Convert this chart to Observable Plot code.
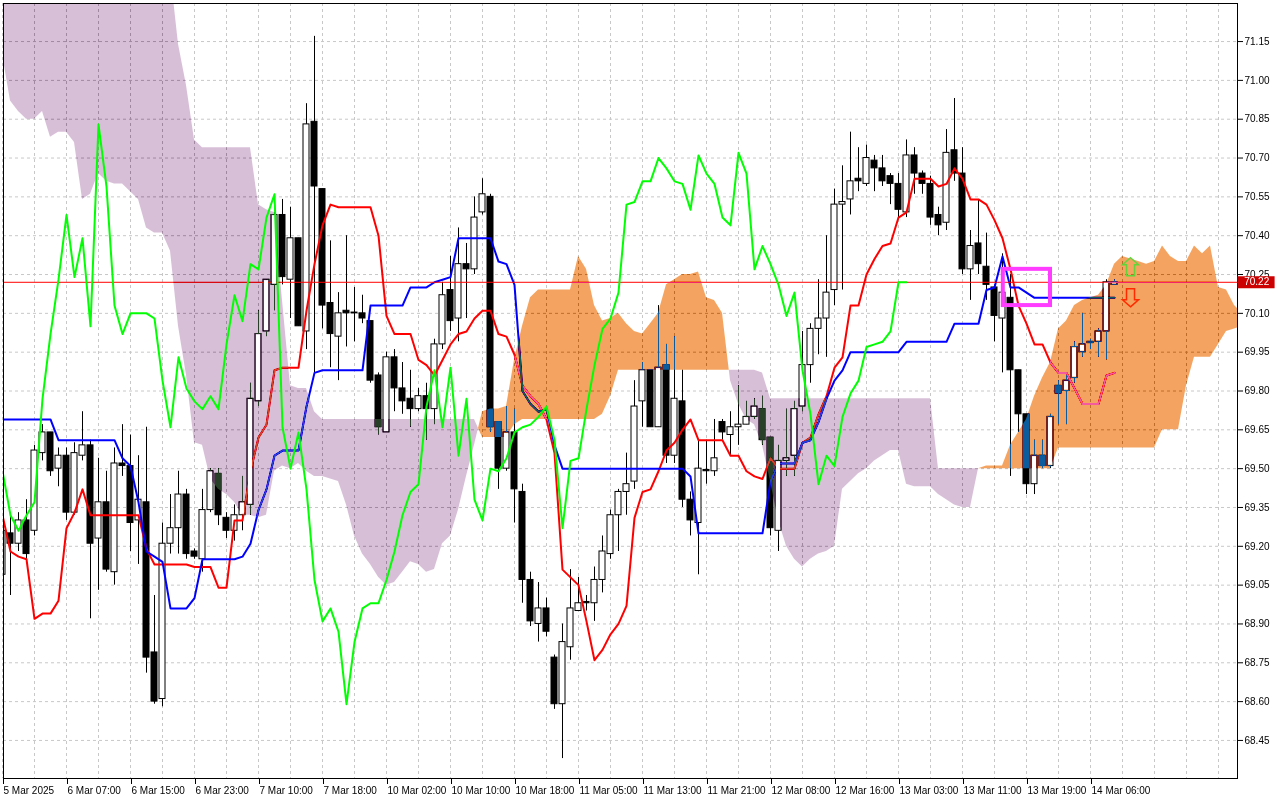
<!DOCTYPE html>
<html><head><meta charset="utf-8">
<script src="https://cdn.jsdelivr.net/npm/d3@7"></script>
<script src="https://cdn.jsdelivr.net/npm/@observablehq/plot@0.6"></script>
<style>html,body{margin:0;padding:0;background:#fff;overflow:hidden}#chart svg{display:block}</style>
</head><body><div id="chart"></div>
<script>
// ---- hourly candles (bar index 0..139) ----
const opens = [69.09,69.25,69.21,69.30,69.26,69.56,69.64,69.50,69.55,69.33,
69.55,69.59,69.23,69.37,69.10,69.52,69.51,69.30,69.37,68.79,
68.61,69.21,69.27,69.40,69.18,69.15,69.34,69.48,69.31,69.26,
69.32,69.36,69.76,70.03,70.21,70.48,70.23,70.39,70.03,70.84,
70.58,70.14,70.01,70.11,70.10,70.10,70.07,69.86,69.64,69.93,
69.81,69.77,69.73,69.78,69.73,69.98,70.19,70.08,70.29,70.27,
70.49,70.55,69.68,69.50,69.64,69.41,69.07,68.90,68.96,68.77,
68.59,68.81,68.95,68.985,68.98,69.07,69.17,69.32,69.41,69.45,
69.76,69.88,69.66,69.90,69.55,69.76,69.38,69.29,69.495,69.49,
69.68,69.63,69.66,69.67,69.70,69.73,69.62,69.26,69.53,69.55,
69.74,69.90,70.04,70.08,70.19,70.52,70.54,70.62,70.60,70.69,
70.66,70.63,70.60,70.49,70.71,70.64,70.60,70.48,70.45,70.73,
70.64,70.27,70.37,70.28,70.20,70.08,70.16,69.88,69.71,69.44,
69.55,69.51,69.82,69.80,69.85,69.95,69.985,69.99,70.03,70.21];
const highs = [69.28,69.33,69.33,69.38,69.59,69.67,69.64,69.58,69.58,69.60,
69.72,69.61,69.54,69.49,69.58,69.67,69.63,69.55,69.66,69.01,
69.29,69.40,69.49,69.42,69.19,69.42,69.50,69.50,69.33,69.36,
69.47,69.83,70.11,70.23,70.49,70.54,70.51,70.39,70.91,71.17,
70.58,70.38,70.18,70.40,70.20,70.17,70.07,69.87,69.95,69.96,
69.91,69.88,69.81,69.83,70.00,70.22,70.32,70.43,70.37,70.55,
70.62,70.56,69.68,69.74,69.73,69.44,69.10,69.06,69.00,68.78,
68.90,69.11,69.08,69.01,69.12,69.24,69.34,69.42,69.56,69.84,
69.91,69.88,70.13,69.98,70.01,69.88,69.41,69.61,69.61,69.69,
69.69,69.72,69.82,69.76,69.77,69.78,69.62,69.59,69.73,69.76,
70.03,70.06,70.23,70.40,70.58,70.67,70.80,70.74,70.75,70.71,
70.71,70.64,70.64,70.77,70.74,70.65,70.63,70.51,70.81,70.93,
70.74,70.42,70.54,70.41,70.21,70.33,70.25,69.88,69.71,69.61,
69.61,69.71,69.84,69.86,69.99,70.10,70.00,70.04,70.23,70.23];
const lows = [69.07,69.01,69.18,69.15,69.24,69.53,69.47,69.43,69.30,69.32,
69.53,68.92,69.03,69.10,69.05,69.47,69.18,69.13,68.71,68.59,
68.58,69.17,69.17,69.15,69.15,69.10,69.33,69.28,69.23,69.22,
69.26,69.32,69.74,70.01,70.11,70.21,70.08,70.05,69.96,69.87,
70.04,69.89,69.84,69.97,69.99,70.06,69.83,69.63,69.64,69.72,
69.71,69.66,69.72,69.61,69.67,69.96,70.03,69.99,70.08,70.25,
70.48,69.64,69.42,69.49,69.29,68.98,68.89,68.83,68.85,68.57,
68.38,68.76,68.95,68.95,68.91,69.02,69.15,69.18,69.32,69.42,
69.66,69.66,69.66,69.52,69.52,69.35,69.24,69.09,69.44,69.47,
69.61,69.55,69.59,69.67,69.69,69.59,69.24,69.18,69.47,69.47,
69.72,69.83,69.94,69.93,70.13,70.19,70.48,70.57,70.59,70.57,
70.59,70.52,70.47,70.47,70.56,70.56,70.44,70.40,70.42,70.61,
70.25,70.15,70.25,70.15,69.99,69.87,69.47,69.64,69.40,69.40,
69.50,69.50,69.67,69.67,69.83,69.93,69.96,69.93,69.92,70.21];
const closes = [69.26,69.21,69.30,69.17,69.57,69.64,69.49,69.55,69.33,69.56,
69.59,69.21,69.37,69.11,69.52,69.51,69.29,69.38,68.77,68.60,
69.21,69.27,69.40,69.17,69.16,69.34,69.49,69.32,69.26,69.32,
69.37,69.77,70.02,70.23,70.48,70.24,70.39,70.05,70.83,70.59,
70.13,70.02,70.10,70.10,70.10,70.08,69.84,69.66,69.93,69.81,
69.76,69.73,69.78,69.73,69.98,70.17,70.07,70.29,70.27,70.47,
70.56,69.66,69.50,69.64,69.42,69.07,68.91,68.96,68.87,68.59,
68.83,68.96,68.98,68.98,69.07,69.18,69.32,69.41,69.44,69.74,
69.88,69.66,69.89,69.55,69.77,69.38,69.30,69.50,69.49,69.54,
69.64,69.66,69.67,69.70,69.74,69.61,69.27,69.53,69.54,69.73,
69.90,70.04,70.08,70.18,70.52,70.53,70.61,70.61,70.70,70.66,
70.61,70.60,70.50,70.71,70.64,70.60,70.47,70.44,70.72,70.64,
70.27,70.36,70.29,70.21,70.09,70.18,69.88,69.71,69.44,69.55,
69.51,69.70,69.79,69.84,69.97,69.98,69.99,70.03,70.22,70.22];

// ---- Ichimoku lines ----
const tenkan = [69.32,69.18,69.16,69.15,68.92,68.94,68.94,68.99,69.27,69.33,
69.42,69.32,69.32,69.32,69.32,69.32,69.32,69.32,69.19,69.13,
69.13,69.13,69.13,69.13,69.12,69.12,69.12,69.04,69.04,69.30,
69.30,69.49,69.62,69.67,69.88,69.89,69.89,69.89,70.11,70.29,
70.44,70.52,70.51,70.51,70.51,70.51,70.51,70.40,70.09,70.02,
70.02,70.02,69.92,69.90,69.86,69.92,69.98,70.02,70.03,70.08,
70.11,70.11,70.02,70.01,69.94,69.82,69.78,69.75,69.69,69.56,
69.11,69.08,69.05,68.91,68.76,68.80,68.86,68.90,68.97,69.31,
69.41,69.42,69.49,69.57,69.60,69.65,69.69,69.61,69.61,69.61,
69.61,69.55,69.55,69.49,69.47,69.46,69.54,69.50,69.50,69.50,
69.60,69.62,69.71,69.78,69.89,69.93,70.13,70.13,70.25,70.31,
70.36,70.37,70.47,70.49,70.62,70.62,70.62,70.59,70.60,70.66,
70.62,70.54,70.54,70.52,70.46,70.39,70.27,70.13,70.06,69.98,
69.98,69.91,69.87,69.87,69.81,69.75,69.75,69.75,69.86,69.87];
const kijun = [69.69,69.69,69.69,69.69,69.69,69.69,69.69,69.61,69.61,69.61,
69.61,69.61,69.61,69.61,69.61,69.54,69.51,69.37,69.18,69.16,
69.14,68.96,68.96,68.96,69.00,69.15,69.15,69.15,69.15,69.15,
69.16,69.21,69.34,69.42,69.55,69.57,69.57,69.57,69.74,69.87,
69.88,69.88,69.88,69.88,69.88,69.88,70.13,70.13,70.13,70.13,
70.13,70.20,70.20,70.20,70.22,70.23,70.24,70.39,70.39,70.39,
70.39,70.39,70.30,70.29,70.21,69.80,69.75,69.72,69.73,69.59,
69.50,69.50,69.50,69.50,69.50,69.50,69.50,69.50,69.50,69.50,
69.50,69.50,69.50,69.50,69.50,69.50,69.47,69.25,69.25,69.25,
69.25,69.25,69.25,69.25,69.25,69.25,69.45,69.52,69.52,69.52,
69.60,69.61,69.68,69.77,69.84,69.88,69.95,69.95,69.95,69.95,
69.95,69.95,69.95,69.99,69.99,69.99,69.99,69.99,69.99,70.06,
70.06,70.06,70.06,70.19,70.20,70.32,70.20,70.20,70.18,70.16,
70.16,70.16,70.16,70.16,70.16,70.16,70.16,70.16,70.16,70.16];
// Chikou span: plotted 26 bars back (bar 0..113)
const chikou = [69.49,69.32,69.26,69.32,69.37,69.77,70.02,70.23,70.48,70.24,
70.39,70.05,70.83,70.59,70.13,70.02,70.10,70.10,70.10,70.08,
69.84,69.66,69.93,69.81,69.76,69.73,69.78,69.73,69.98,70.17,
70.07,70.29,70.27,70.47,70.56,69.66,69.50,69.64,69.42,69.07,
68.91,68.96,68.87,68.59,68.83,68.96,68.98,68.98,69.07,69.18,
69.32,69.41,69.44,69.74,69.88,69.66,69.89,69.55,69.77,69.38,
69.30,69.50,69.49,69.54,69.64,69.66,69.67,69.70,69.74,69.61,
69.27,69.53,69.54,69.73,69.90,70.04,70.08,70.18,70.52,70.53,
70.61,70.61,70.70,70.66,70.61,70.60,70.50,70.71,70.64,70.60,
70.47,70.44,70.72,70.64,70.27,70.36,70.29,70.21,70.09,70.18,
69.88,69.71,69.44,69.55,69.51,69.70,69.79,69.84,69.97,69.98,
69.99,70.03,70.22,70.22];
// Senkou spans: plotted 26 bars ahead (bar 0..155)
const senkouA = [71.10,70.92,70.88,70.85,70.85,70.88,70.78,70.80,70.80,70.76,
70.54,70.56,70.64,70.61,70.60,70.60,70.57,70.54,70.43,70.41,
70.41,70.34,70.05,69.86,69.60,69.59,69.46,69.42,69.40,69.37,
69.32,69.32,69.31,69.32,69.49,69.51,69.50,69.52,69.49,69.47,
69.47,69.46,69.45,69.36,69.24,69.17,69.13,69.08,69.05,69.06,
69.10,69.14,69.13,69.10,69.11,69.21,69.24,69.34,69.47,69.59,
69.72,69.73,69.73,69.74,69.92,70.05,70.16,70.19,70.19,70.19,
70.19,70.19,70.32,70.27,70.13,70.07,70.08,70.10,70.06,70.03,
70.02,70.06,70.10,70.21,70.23,70.25,70.25,70.26,70.16,70.15,
70.10,69.84,69.75,69.69,69.67,69.59,69.45,69.30,69.20,69.15,
69.12,69.15,69.17,69.18,69.20,69.42,69.45,69.48,69.50,69.53,
69.55,69.57,69.57,69.44,69.43,69.43,69.43,69.40,69.38,69.36,
69.35,69.35,69.50,69.51,69.51,69.51,69.59,69.64,69.69,69.78,
69.85,69.91,70.04,70.07,70.13,70.15,70.16,70.17,70.21,70.29,
70.32,70.31,70.30,70.29,70.30,70.36,70.32,70.30,70.30,70.36,
70.33,70.36,70.20,70.19,70.13,70.10];
const senkouB = [71.42,71.42,71.42,71.42,71.42,71.42,71.42,71.42,71.42,71.42,
71.42,71.42,71.42,71.42,71.42,71.42,71.42,71.42,71.42,71.42,
71.42,71.42,71.14,70.98,70.77,70.74,70.74,70.74,70.74,70.74,
70.74,70.74,70.52,70.50,70.49,70.15,69.82,69.81,69.81,69.72,
69.69,69.69,69.69,69.69,69.69,69.69,69.69,69.69,69.69,69.69,
69.69,69.69,69.69,69.69,69.69,69.69,69.69,69.69,69.69,69.69,
69.62,69.62,69.62,69.62,69.67,69.69,69.69,69.69,69.69,69.69,
69.69,69.69,69.69,69.69,69.69,69.71,69.78,69.88,69.88,69.88,
69.88,69.88,69.88,69.88,69.88,69.88,69.88,69.88,69.88,69.88,
69.88,69.88,69.88,69.88,69.88,69.87,69.77,69.77,69.77,69.77,
69.77,69.77,69.77,69.77,69.77,69.77,69.77,69.77,69.77,69.77,
69.77,69.77,69.77,69.77,69.77,69.77,69.77,69.50,69.50,69.50,
69.50,69.50,69.50,69.50,69.50,69.50,69.50,69.50,69.50,69.50,
69.50,69.50,69.58,69.58,69.58,69.58,69.58,69.58,69.58,69.58,
69.58,69.58,69.58,69.58,69.58,69.65,69.65,69.65,69.82,69.93,
69.93,69.93,69.98,70.03,70.04,70.05];

// ---- axes ----
const xTickLabels = ["5 Mar 2025","6 Mar 07:00","6 Mar 15:00","6 Mar 23:00","7 Mar 10:00","7 Mar 18:00",
"10 Mar 02:00","10 Mar 10:00","10 Mar 18:00","11 Mar 05:00","11 Mar 13:00","11 Mar 21:00",
"12 Mar 08:00","12 Mar 16:00","13 Mar 03:00","13 Mar 11:00","13 Mar 19:00","14 Mar 06:00"];
const yTicks = [68.45,68.60,68.75,68.90,69.05,69.20,69.35,69.50,69.65,69.80,69.95,70.10,70.25,70.40,70.55,70.70,70.85,71.00,71.15];
const lastPrice = 70.22;
// ---- annotations ----
const signals = [{bar: 141, price: 70.28, dir: "up"}, {bar: 141, price: 70.16, dir: "down"}];
const annotationBox = [{bar1: 125.1, bar2: 131.0, lo: 70.13, hi: 70.27}];

// ---- build ----
const xDomain = [0.125, 154.375];
const yDomain = [68.303, 71.297];
const bars = closes.map((c, i) => ({i, o: opens[i], h: highs[i], l: lows[i], c}));
const bull = bars.filter(d => d.c >= d.o);
const bear = bars.filter(d => d.c < d.o);
const bodyLo = d => Math.min(d.o, d.c);
const bodyHi = d => Math.max(Math.max(d.o, d.c), Math.min(d.o, d.c) + 0.003);
const ser = arr => arr.map((v, i) => ({i, v}));

// cloud polygons (insert sign-change points between bars for rendering)
const cloud = [];
for (let i = 0; i < senkouA.length; i++) {
  const a = senkouA[i], b = senkouB[i];
  cloud.push({i, a, b, top: Math.max(a, b)});
  if (i < senkouA.length - 1) {
    const d0 = a - b, d1 = senkouA[i + 1] - senkouB[i + 1];
    if (d0 * d1 < 0) {
      const t = d0 / (d0 - d1);
      const v = a + t * (senkouA[i + 1] - a);
      cloud.push({i: i + t, a: v, b: v, top: v});
    }
  }
}
const inCloud = d => {
  const lo = Math.min(senkouA[d.i], senkouB[d.i]), hi = Math.max(senkouA[d.i], senkouB[d.i]);
  return bodyHi(d) > lo && bodyLo(d) < hi;
};

// hollow arrow symbols (terminal-style signal arrows)
const arrowUp = {draw(ctx) {
  ctx.moveTo(0, -9); ctx.lineTo(8, -2); ctx.lineTo(4, -2); ctx.lineTo(4, 9);
  ctx.lineTo(-4, 9); ctx.lineTo(-4, -2); ctx.lineTo(-8, -2); ctx.closePath();
}};
const arrowDown = {draw(ctx) {
  ctx.moveTo(0, 9); ctx.lineTo(8, 2); ctx.lineTo(4, 2); ctx.lineTo(4, -9);
  ctx.lineTo(-4, -9); ctx.lineTo(-4, 2); ctx.lineTo(-8, 2); ctx.closePath();
}};

const font = "'Liberation Sans', 'DejaVu Sans', Arial, sans-serif";
const chart = Plot.plot({
  width: 1280, height: 800,
  marginLeft: 3, marginRight: 43, marginTop: 3, marginBottom: 22,
  x: {domain: xDomain, axis: null},
  y: {domain: yDomain, axis: null},
  style: {background: "white", fontFamily: font, fontSize: "10px", color: "black"},
  marks: [
    Plot.frame({fill: "white", stroke: "none"}),
    Plot.gridX(d3.range(0, 155, 4), {stroke: "#c8c8c8", strokeOpacity: 1, strokeDasharray: "3,3"}),
    Plot.gridY(yTicks, {stroke: "#c8c8c8", strokeOpacity: 1, strokeDasharray: "3,3"}),
    // candles
    Plot.ruleX(bars, {x: "i", y1: "l", y2: "h", stroke: "black", strokeWidth: 1, clip: true}),
    Plot.rect(bear, {x1: d => d.i - 0.375, x2: d => d.i + 0.375, y1: bodyLo, y2: bodyHi, fill: "black", stroke: "black", strokeWidth: 1, clip: true}),
    Plot.rect(bull, {x1: d => d.i - 0.375, x2: d => d.i + 0.375, y1: bodyLo, y2: bodyHi, fill: "white", stroke: "black", strokeWidth: 1, clip: true}),
    // tenkan / kijun
    Plot.line(ser(tenkan), {x: "i", y: "v", stroke: "#ff0000", strokeWidth: 2, clip: true}),
    Plot.line(ser(kijun), {x: "i", y: "v", stroke: "#0000ff", strokeWidth: 2, clip: true}),
    // last price line
    Plot.ruleY([lastPrice], {stroke: "#ff0000", strokeWidth: 1, clip: true}),
    // cloud (inverted-colour blend, like the terminal)
    Plot.areaY(cloud, {x: "i", y1: "b", y2: "top", fill: "#0b5b9f", mixBlendMode: "difference", clip: true}),
    Plot.areaY(cloud, {x: "i", y1: "a", y2: "top", fill: "#274027", mixBlendMode: "difference", clip: true}),
    // bull bodies inside cloud stay white
    Plot.rect(bull.filter(inCloud), {x1: d => d.i - 0.375, x2: d => d.i + 0.375, y1: bodyLo, y2: bodyHi, fill: "white", insetLeft: 1, insetRight: 1, insetTop: 1, insetBottom: 1, clip: true}),
    // chikou
    Plot.line(ser(chikou), {x: "i", y: "v", stroke: "#00ff00", strokeWidth: 2, clip: true}),
    // annotations
    Plot.rect(annotationBox, {x1: "bar1", x2: "bar2", y1: "lo", y2: "hi", fill: "none", stroke: "#ff3cff", strokeWidth: 4, clip: true}),
    Plot.dot(signals.filter(d => d.dir === "up"), {x: "bar", y: "price", symbol: arrowUp, r: 9, fill: "none", stroke: "#62d43a", strokeWidth: 1.5, clip: true}),
    Plot.dot(signals.filter(d => d.dir === "down"), {x: "bar", y: "price", symbol: arrowDown, r: 9, fill: "none", stroke: "#ff2a00", strokeWidth: 1.5, clip: true}),
    Plot.frame({stroke: "black", strokeWidth: 1}),
    // axes
    Plot.axisY(yTicks, {anchor: "right", tickSize: 5, tickPadding: 2, tickFormat: d => d.toFixed(2), fontSize: 10}),
    Plot.axisX(d3.range(0, 8 * xTickLabels.length, 8), {anchor: "bottom", tickSize: 6, tickPadding: 2, tickFormat: d => xTickLabels[Math.round(d / 8)], textAnchor: "start", dx: 1, fontSize: 10}),
    // last price label
    Plot.ruleY([lastPrice], {x1: () => xDomain[1] + 0.05, x2: () => xDomain[1] + 4.7, stroke: "#cc0000", strokeWidth: 12}),
    Plot.text([lastPrice], {x: () => xDomain[1] + 2.4, y: d => d, text: d => d.toFixed(2), fill: "white", fontSize: 10})
  ]
});
document.getElementById("chart").appendChild(chart);
// make sure the cloud blends even if the option is ignored
chart.querySelectorAll('g[aria-label="area"]').forEach(g => g.style.mixBlendMode = "difference");
</script>
</body></html>
